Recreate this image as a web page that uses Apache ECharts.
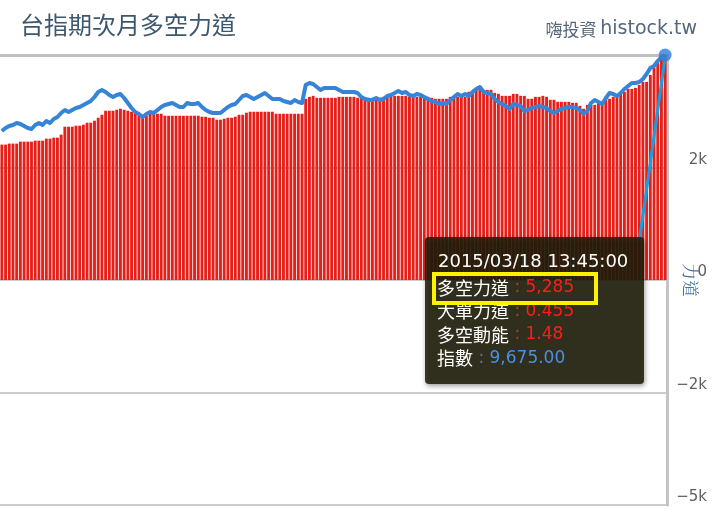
<!DOCTYPE html>
<html>
<head>
<meta charset="utf-8">
<script src="https://cdn.jsdelivr.net/npm/echarts@6/dist/echarts.min.js"></script>
<style>
html,body{margin:0;padding:0;background:#fff;}
#chart{width:726px;height:520px;}
</style>
</head>
<body>
<div id="chart"></div>
<script>
// ---- data ----
const lastTime = '2015/03/18 13:45:00';
const forceValues = [
2708,2708,2728,2728,2728,2767,2767,2767,2767,2787,
2787,2787,2827,2827,2847,2847,2907,3066,3066,3066,
3086,3086,3106,3146,3146,3186,3245,3305,3385,3385,
3385,3405,3425,3405,3385,3365,3345,3305,3285,3285,
3325,3325,3325,3325,3285,3285,3285,3285,3285,3285,
3285,3285,3285,3285,3265,3265,3245,3245,3206,3206,
3225,3245,3245,3265,3305,3305,3345,3365,3365,3365,
3365,3365,3365,3365,3325,3325,3325,3325,3325,3325,
3325,3325,3624,3663,3683,3644,3644,3644,3644,3644,
3644,3663,3663,3663,3663,3663,3644,3644,3644,3644,
3644,3644,3644,3663,3663,3683,3683,3683,3683,3683,
3663,3663,3663,3663,3663,3663,3644,3624,3624,3624,
3624,3663,3663,3663,3663,3663,3763,3763,3823,3823,
3803,3803,3803,3743,3723,3683,3683,3683,3723,3723,
3683,3683,3624,3624,3663,3663,3683,3663,3604,3604,
3564,3564,3564,3564,3544,3544,3484,3425,3504,3504,
3504,3544,3544,3624,3624,3663,3663,3723,3763,3823,
3823,3843,3902,3962,3962,4101,4241,4360,4460,5285
];
const indexValues = [
9637,9638.5,9639.5,9640,9641,9640.5,9639.5,9638.5,9638,9640,
9641,9640,9642,9641,9643,9644,9646,9647.5,9646.5,9647.5,
9648.5,9649,9650,9651,9652,9654,9656.5,9657.5,9656.5,9655,
9654,9655,9655.5,9653.5,9651,9648.5,9646.5,9645.5,9644,9645.5,
9646.5,9646,9647.5,9649,9650,9650.5,9651,9650,9649,9649,
9651,9650.5,9650.5,9651,9649,9647.5,9646.5,9646,9646,9646,
9647.5,9649,9650,9650.5,9652.5,9654.5,9655,9654,9653,9654,
9655,9656,9654.5,9653,9653,9653,9652,9651.5,9651,9652.5,
9651.5,9651,9660,9661,9660.5,9659,9657.5,9658.5,9658.5,9658.5,
9658.5,9657.5,9656.5,9656.5,9656.5,9656.5,9656,9654,9653,9652.5,
9652.5,9653.5,9652.5,9653,9654.5,9655,9656,9657,9656,9656.5,
9655,9654.5,9655.5,9655,9654,9653,9652,9651.5,9650.5,9651,
9650.5,9652.5,9654,9655.5,9654.5,9655.5,9654.5,9656.5,9658,9659,
9656.5,9656,9655.5,9653,9651.5,9650.5,9649.5,9648,9650.5,9650,
9649.5,9647,9647.5,9648.5,9649,9649.5,9649,9648.5,9647,9646,
9647,9648,9648.5,9649,9649,9648.5,9647.5,9645.5,9647,9651,
9652.5,9651.5,9650.5,9653.5,9656,9655.5,9654.5,9656,9658,9659.5,
9661,9661,9661.5,9663,9665.5,9668.5,9669.5,9672,9674,9675
];
const momentumIdx = [172, 179];
const momentumValues = [-0.37, 1.48];
const bigOrderForce = 0.455;
const tipLabels = ['多空力道', '大單力道', '多空動能', '指數'];

// categories: one per minute, ending at the tooltip time
const categories = [];
(function () {
  const n = forceValues.length;
  const endMin = 13 * 60 + 45;
  for (let i = 0; i < n; i++) {
    const m = endMin - (n - 1 - i);
    const hh = String(Math.floor(m / 60)).padStart(2, '0');
    const mm = String(m % 60).padStart(2, '0');
    categories.push('2015/03/18 ' + hh + ':' + mm + ':00');
  }
})();

const last = forceValues.length - 1;
const fmtInt = v => v.toLocaleString('en-US');
const fmt2 = v => v.toLocaleString('en-US', {minimumFractionDigits: 2, maximumFractionDigits: 2});

const chart = echarts.init(document.getElementById('chart'));
const FONT = '"DejaVu Sans", "Noto Sans CJK TC", sans-serif';
const TZ = 200;

const tipX = 425, tipY = 237;
const rowGap = 23.4;
const rows = [
  {label: tipLabels[0], value: fmtInt(forceValues[last]), vc: '#ff1c1c', cc: '#b43a30'},
  {label: tipLabels[1], value: String(bigOrderForce), vc: '#ff1c1c', cc: '#b43a30'},
  {label: tipLabels[2], value: String(momentumValues[momentumValues.length - 1]), vc: '#ff1c1c', cc: '#b43a30'},
  {label: tipLabels[3], value: fmt2(indexValues[last]), vc: '#4a8fe6', cc: '#5a78a8'}
];

const tipChildren = [
  {type: 'rect', z: TZ, shape: {x: 0, y: 0, width: 219, height: 147, r: 4},
   style: {fill: 'rgba(30,28,8,0.86)', shadowBlur: 5, shadowOffsetX: 1, shadowOffsetY: 2, shadowColor: 'rgba(0,0,0,0.45)'}},
  {type: 'text', z: TZ + 1, x: 13, y: 25,
   style: {text: lastTime, fill: '#ffffff', font: '18px ' + FONT, verticalAlign: 'middle'}}
];
rows.forEach((r, k) => {
  tipChildren.push({
    type: 'text', z: TZ + 1, x: 12, y: 51 + k * rowGap,
    style: {
      text: '{l|' + r.label + '}{c| : }{v|' + r.value + '}',
      verticalAlign: 'middle',
      rich: {
        l: {fill: '#ffffff', fontSize: 18, fontFamily: '"Noto Sans CJK TC", sans-serif'},
        c: {fill: r.cc, fontSize: 17, fontFamily: FONT},
        v: {fill: r.vc, fontSize: 17, fontFamily: FONT}
      }
    }
  });
});
tipChildren.push({
  type: 'rect', z: TZ + 2, shape: {x: 9, y: 37, width: 162, height: 29},
  style: {fill: 'none', stroke: '#fff200', lineWidth: 4}
});

const option = {
  animation: false,
  backgroundColor: '#ffffff',
  title: [
    {text: '台指期次月多空力道', left: 15, top: 8,
     textStyle: {color: '#3e576f', fontSize: 24, fontWeight: 'normal', fontFamily: '"Noto Sans CJK TC", sans-serif'}},
    {text: '{a|嗨投資 }{b|histock.tw}', right: 24, top: 15,
     textStyle: {
       fontWeight: 'normal',
       rich: {
         a: {color: '#55677b', fontSize: 17, fontWeight: 'normal', fontFamily: '"Noto Sans CJK TC", sans-serif'},
         b: {color: '#55677b', fontSize: 19, fontWeight: 'normal', fontFamily: '"DejaVu Sans", sans-serif'}
       }
     }}
  ],
  grid: {left: 0, right: 59, top: 55, bottom: 15, containLabel: false, outerBoundsMode: 'none'},
  xAxis: {
    type: 'category', data: categories, position: 'top',
    axisLine: {show: true, onZero: false, lineStyle: {color: '#c0c0c0', width: 3}},
    axisTick: {show: false}, axisLabel: {show: false}, splitLine: {show: false}
  },
  yAxis: [
    {
      type: 'value', position: 'right', min: -4500, max: 4500, interval: 2250,
      name: '力道', nameLocation: 'middle', nameGap: 15, nameRotate: -90, nameMoveOverlap: false,
      nameTextStyle: {color: '#4572a7', fontSize: 17, fontFamily: '"Noto Serif CJK TC", "Noto Sans CJK TC", serif'},
      axisLine: {show: true, lineStyle: {color: '#c4c4c4', width: 3}},
      axisTick: {show: false},
      axisLabel: {
        showMaxLabel: false, align: 'right', margin: 40, verticalAlign: 'bottom',
        padding: [0, 0, 0, 0],
        color: '#606060', fontSize: 15, fontFamily: FONT,
        formatter: v => v === 0 ? '0' : (v < 0 ? '\u2212' : '') + Math.round(Math.abs(v) / 1000) + 'k'
      },
      splitLine: {show: true, lineStyle: {color: '#cccccc', width: 2}}
    },
    {type: 'value', show: false, min: 9450, max: 9675, splitLine: {show: false}},
    {type: 'value', show: false, min: -3, max: 1.5, splitLine: {show: false}}
  ],
  series: [
    {
      name: '多空力道', type: 'bar', data: forceValues, yAxisIndex: 0,
      barCategoryGap: '22%', clip: true,
      itemStyle: {color: '#e5201b'}
    },
    {
      name: '指數', type: 'line', data: indexValues, yAxisIndex: 1,
      showSymbol: false, clip: false, smooth: false,
      lineStyle: {color: '#3584d8', width: 4, join: 'round'}
    },
    {
      name: '多空動能', type: 'line', yAxisIndex: 2,
      data: momentumIdx.map((ix, k) => [ix, momentumValues[k]]),
      showSymbol: false, clip: false,
      lineStyle: {color: '#199fe0', width: 3}
    },
    {
      name: '指數點', type: 'scatter', yAxisIndex: 1, clip: false,
      data: [[last, indexValues[last]]],
      symbol: 'circle', symbolSize: 13, itemStyle: {color: '#2f80d8'}, z: 5
    }
  ],
  graphic: [
    {type: 'group', x: tipX, y: tipY, z: TZ, children: tipChildren}
  ]
};
chart.setOption(option);
</script>
</body>
</html>
